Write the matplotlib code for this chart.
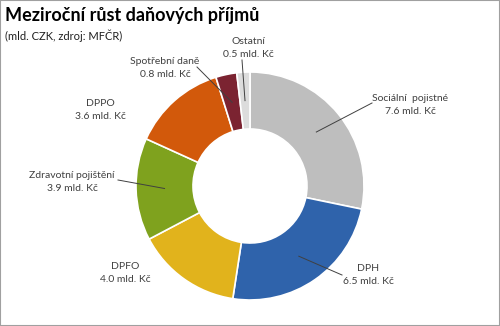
import numpy as np
import matplotlib
matplotlib.use("Agg")
import matplotlib.pyplot as plt

# data (mld. Kc)
categories = ["Sociální  pojistné", "DPH", "DPFO", "Zdravotní pojištění",
              "DPPO", "Spotřební daně", "Ostatní"]
values = [7.6, 6.5, 4.0, 3.9, 3.6, 0.8, 0.5]
value_labels = ["7.6 mld. Kč", "6.5 mld. Kč", "4.0 mld. Kč", "3.9 mld. Kč",
                "3.6 mld. Kč", "0.8 mld. Kč", "0.5 mld. Kč"]
colors = ["#BEBEBE", "#2F63AB", "#E1B31C", "#7FA21E", "#D2590B", "#7B2331", "#DCDCDC"]

# label centres in pixels, and start of leader line (None = no line)
label_px = [(410, 105), (368, 275), (125, 273), (72, 182), (100, 110), (165, 68), (248, 48)]
leader_px = [(372, 103), (342, 275), None, (118, 180), None, (197, 67), (242, 60)]

W, H = 500, 326
cx, cy, R = 250, 186, 114

plt.rcParams['font.family'] = ['Lato', 'DejaVu Sans']

fig = plt.figure(figsize=(W / 100, H / 100), dpi=100)
fig.patch.set_facecolor("white")
ax = fig.add_axes([(cx - R) / W, (H - cy - R) / H, 2 * R / W, 2 * R / H])

wedges, _ = ax.pie(values, colors=colors, startangle=90, counterclock=False,
                   radius=1.0, wedgeprops=dict(width=0.5, edgecolor="white", linewidth=1.2))
ax.set_xlim(-1, 1)
ax.set_ylim(-1, 1)
ax.set_aspect("equal")
ax.axis("off")

def to_data(p):
    return (p[0] - cx) / R, (cy - p[1]) / R

for w, name, vl, lp, sp in zip(wedges, categories, value_labels, label_px, leader_px):
    lx, ly = to_data(lp)
    ax.text(lx, ly, name + "\n" + vl, ha="center", va="center", fontsize=7.5,
            color="#404040", linespacing=1.45, clip_on=False)
    if sp is not None:
        ang = np.deg2rad((w.theta1 + w.theta2) / 2)
        tx, ty = 0.75 * np.cos(ang), 0.75 * np.sin(ang)
        sx, sy = to_data(sp)
        ax.plot([sx, tx], [sy, ty], color="#404040", lw=0.7, clip_on=False)

fig.text(5 / W, 1 - 15 / H, "Meziroční růst daňových příjmů", fontsize=13,
         fontweight="bold", color="black", va="center", ha="left")
fig.text(5 / W, 1 - 36 / H, "(mld. CZK, zdroj: MFČR)", fontsize=8,
         color="#202020", va="center", ha="left")

# thin grey frame round the figure
fig.add_artist(plt.Rectangle((0, 0), 1, 1, transform=fig.transFigure, fill=False,
                             edgecolor="#A0A0A0", lw=1.5))

fig.savefig("out.png", dpi=100, facecolor="white")
